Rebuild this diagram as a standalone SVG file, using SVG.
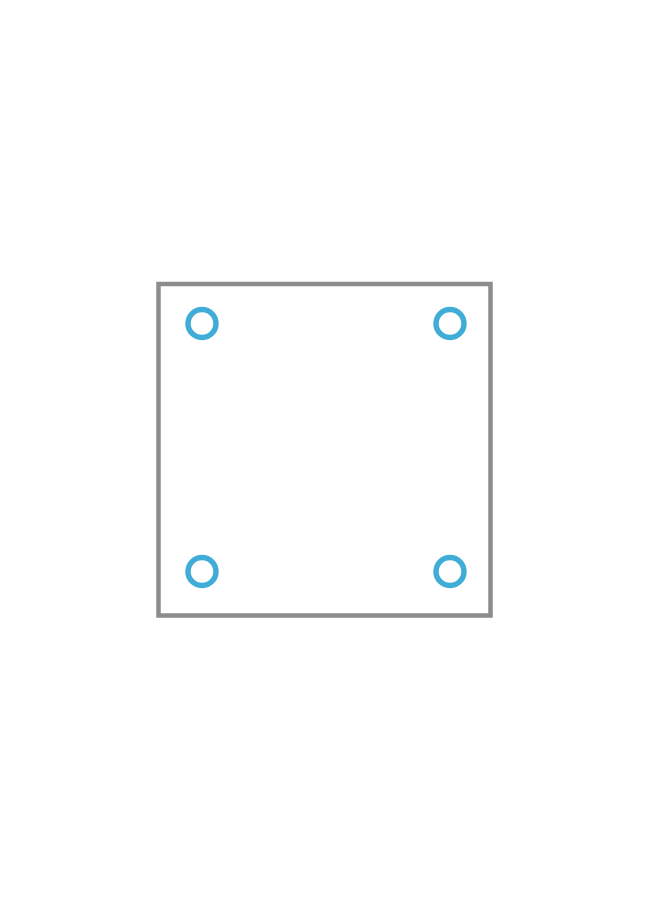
<svg xmlns="http://www.w3.org/2000/svg" width="650" height="900" viewBox="0 0 650 900">
<style>
.frame{fill:none;stroke:#8c8c8c;stroke-width:4.5}
.hole{fill:none;stroke:#40add8;stroke-width:5.5}
</style>
<rect width="650" height="900" fill="#ffffff"/>
<g id="plate"><rect class="frame" x="158.5" y="284" width="332" height="331.5"/></g>
<g id="hole-tl"><circle class="hole" cx="202" cy="323.5" r="14"/></g>
<g id="hole-tr"><circle class="hole" cx="450" cy="323.5" r="14"/></g>
<g id="hole-bl"><circle class="hole" cx="202" cy="571.5" r="14"/></g>
<g id="hole-br"><circle class="hole" cx="450" cy="571.5" r="14"/></g>
<g id="connectors"></g>
</svg>
